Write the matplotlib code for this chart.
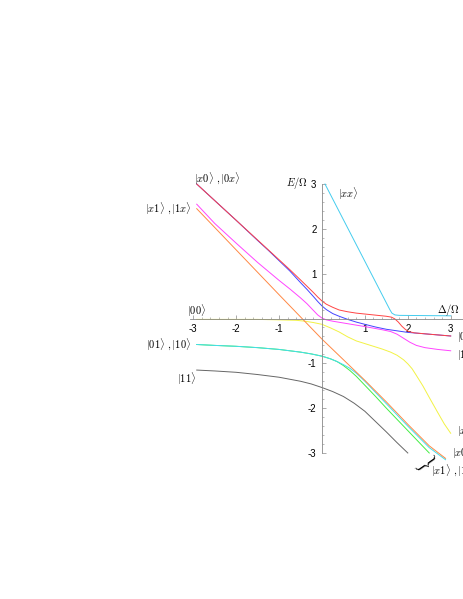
import matplotlib
matplotlib.use("Agg")
import matplotlib.pyplot as plt
from matplotlib.ticker import FixedLocator

plt.rcParams["mathtext.fontset"] = "cm"
plt.rcParams["font.family"] = ["Liberation Sans", "DejaVu Sans"]

# level curves (Delta/Omega, E/Omega)
red_d = [-2.92, -2.5, -2.0, -1.5, -1.25, -1.0, -0.75, -0.5, -0.35, -0.2, -0.1, 0.0,
         0.1, 0.25, 0.4, 0.6, 0.8, 1.0, 1.3, 1.5, 1.62, 1.7, 1.78, 1.86, 1.94, 2.02,
         2.15, 2.5, 3.0]
red_e = [3.0, 2.63, 2.19, 1.75, 1.53, 1.31, 1.09, 0.86, 0.72, 0.58, 0.48, 0.39,
         0.32, 0.25, 0.19, 0.15, 0.12, 0.10, 0.07, 0.05, 0.03, -0.01, -0.08, -0.17,
         -0.24, -0.29, -0.32, -0.35, -0.39]

blue_d = [-2.92, -2.5, -2.0, -1.5, -1.25, -1.0, -0.75, -0.5, -0.35, -0.2, -0.1, 0.0,
          0.1, 0.25, 0.4, 0.6, 0.8, 1.0, 1.25, 1.5, 2.0, 2.5, 3.0]
blue_e = [3.0, 2.63, 2.19, 1.74, 1.52, 1.29, 1.06, 0.8, 0.65, 0.49, 0.38, 0.28,
          0.2, 0.11, 0.05, -0.02, -0.08, -0.13, -0.19, -0.24, -0.31, -0.35, -0.39]

magenta_d = [-2.92, -2.5, -2.0, -1.5, -1.0, -0.75, -0.5, -0.35, -0.2, -0.1, 0.0, 0.1,
             0.25, 0.5, 1.0, 1.4, 1.6, 1.75, 1.9, 2.05, 2.2, 2.4, 2.7, 3.0]
magenta_e = [2.55, 2.12, 1.68, 1.25, 0.85, 0.66, 0.46, 0.33, 0.18, 0.08, 0.01, -0.03,
             -0.06, -0.1, -0.18, -0.25, -0.29, -0.35, -0.44, -0.53, -0.6, -0.65,
             -0.69, -0.72]

orange_d = [-2.92, -2.0, -1.0, 0.0, 0.5, 1.0, 1.5, 2.0, 2.5, 2.88]
orange_e = [2.45, 1.53, 0.53, -0.46, -0.92, -1.38, -1.86, -2.36, -2.84, -3.12]

yellow_d = [-2.92, -1.5, -1.0, -0.6, -0.4, -0.2, 0.0, 0.2, 0.4, 0.6, 0.8, 1.0, 1.2,
            1.4, 1.6, 1.75, 1.9, 2.0, 2.1, 2.2, 2.35, 2.5, 2.7, 2.85, 3.0]
yellow_e = [-0.02, -0.02, -0.03, -0.04, -0.06, -0.09, -0.13, -0.21, -0.3, -0.41,
            -0.5, -0.56, -0.62, -0.68, -0.75, -0.82, -0.92, -1.01, -1.12, -1.27,
            -1.5, -1.76, -2.1, -2.35, -2.56]

xx_d = [0.07, 1.58, 1.63, 1.7, 1.8, 3.0]
xx_e = [3.0, 0.2, 0.12, 0.08, 0.07, 0.06]

cyan_d = [-2.92, -2.5, -2.0, -1.5, -1.0, -0.5, -0.25, 0.0, 0.2, 0.35, 0.5, 0.65,
          0.8, 1.0, 1.25, 1.5, 2.0, 2.5, 2.88]
cyan_e = [-0.58, -0.6, -0.62, -0.65, -0.69, -0.75, -0.79, -0.84, -0.9, -0.96, -1.03,
          -1.11, -1.22, -1.4, -1.65, -1.9, -2.4, -2.88, -3.15]

green_d = [-2.92, -2.5, -2.0, -1.5, -1.0, -0.5, -0.25, 0.0, 0.2, 0.35, 0.5, 0.65,
           0.8, 1.0, 1.25, 1.5, 2.0, 2.5]
green_e = [-0.58, -0.6, -0.62, -0.65, -0.69, -0.75, -0.79, -0.84, -0.9, -0.96, -1.05,
           -1.16, -1.29, -1.49, -1.74, -2.0, -2.5, -3.0]

gray_d = [-2.92, -2.5, -2.0, -1.5, -1.0, -0.5, -0.25, 0.0, 0.25, 0.5, 0.75, 1.0,
          1.25, 1.5, 1.75, 2.0]
gray_e = [-1.15, -1.17, -1.2, -1.25, -1.31, -1.4, -1.46, -1.54, -1.63, -1.74, -1.89,
          -2.07, -2.3, -2.53, -2.77, -3.0]

tick_vals = [-3, -2, -1, 1, 2, 3]
tick_labels = ["-3", "-2", "-1", "1", "2", "3"]
minor_vals = [i / 5 for i in range(-15, 16)]

fig = plt.figure(figsize=(4.63, 5.99), dpi=100)
ax = fig.add_axes([0, 0, 1, 1])

lw = 0.7
ax.plot(green_d, green_e, color="#44ee44", lw=lw)
ax.plot(cyan_d, cyan_e, color="#44ddee", lw=lw)
ax.plot(gray_d, gray_e, color="#666666", lw=lw)
ax.plot(yellow_d, yellow_e, color="#f2f244", lw=lw)
ax.plot(orange_d, orange_e, color="#ff8844", lw=lw)
ax.plot(magenta_d, magenta_e, color="#ff44ff", lw=lw)
ax.plot(blue_d, blue_e, color="#4444ff", lw=lw)
ax.plot(red_d, red_e, color="#ff4444", lw=lw)
ax.plot(xx_d, xx_e, color="#44ccee", lw=lw)

# axes through the origin, Mathematica style
for side in ("top", "right"):
    ax.spines[side].set_visible(False)
ax.spines["left"].set_position(("data", 0))
ax.spines["bottom"].set_position(("data", 0))
ax.spines["left"].set_bounds(-3, 3)
ax.spines["bottom"].set_bounds(-3.07, 3.287)
for side in ("left", "bottom"):
    ax.spines[side].set_color("#888888")
    ax.spines[side].set_linewidth(0.6)

ax.xaxis.set_major_locator(FixedLocator(tick_vals))
ax.yaxis.set_major_locator(FixedLocator(tick_vals))
ax.set_xticklabels(tick_labels)
ax.set_yticklabels(tick_labels)
ax.xaxis.set_minor_locator(FixedLocator(minor_vals))
ax.yaxis.set_minor_locator(FixedLocator(minor_vals))
ax.tick_params(which="major", direction="in", length=3, width=0.5,
               color="#888888", labelsize=7, pad=4)
ax.tick_params(which="minor", direction="in", length=1.5, width=0.4,
               color="#888888")
ax.set_xlim(-7.506, 3.287)
ax.set_ylim(-6.257, 7.105)

fs = 7.5
ax.text(-0.33, 3.02, r"$E/\Omega$", ha="right", va="center", fontsize=fs)
ax.text(2.68, 0.19, r"$\Delta/\Omega$", ha="left", va="center", fontsize=fs)

ax.text(-2.98, 3.13, r"$|x0\rangle\ ,|0x\rangle$", ha="left", va="center", fontsize=fs)
ax.text(-3.05, 2.46, r"$|x1\rangle\ ,|1x\rangle$", ha="right", va="center", fontsize=fs)
ax.text(-3.15, 0.17, r"$|00\rangle$", ha="left", va="center", fontsize=fs)
ax.text(-3.05, -0.57, r"$|01\rangle\ ,|10\rangle$", ha="right", va="center", fontsize=fs)
ax.text(-2.94, -1.35, r"$|11\rangle$", ha="right", va="center", fontsize=fs)
ax.text(0.37, 2.78, r"$|xx\rangle$", ha="left", va="center", fontsize=fs)
# right-hand labels run off the edge, as in the reference
ax.text(3.15, -0.39, r"$|0x\rangle\ ,|x0\rangle$", ha="left", va="center", fontsize=fs)
ax.text(3.15, -0.81, r"$|1x\rangle$", ha="left", va="center", fontsize=fs)
ax.text(3.15, -2.51, r"$|xx\rangle$", ha="left", va="center", fontsize=fs)
ax.text(3.03, -2.98, r"$|x0\rangle\ ,|0x\rangle$", ha="left", va="center", fontsize=fs)
ax.text(2.4, -3.22, r"$\}$", ha="center", va="center", fontsize=14, rotation=-55)
ax.text(2.54, -3.38, r"$|x1\rangle\ ,|1x\rangle$", ha="left", va="center", fontsize=fs)

fig.savefig("out.png", dpi=100)
